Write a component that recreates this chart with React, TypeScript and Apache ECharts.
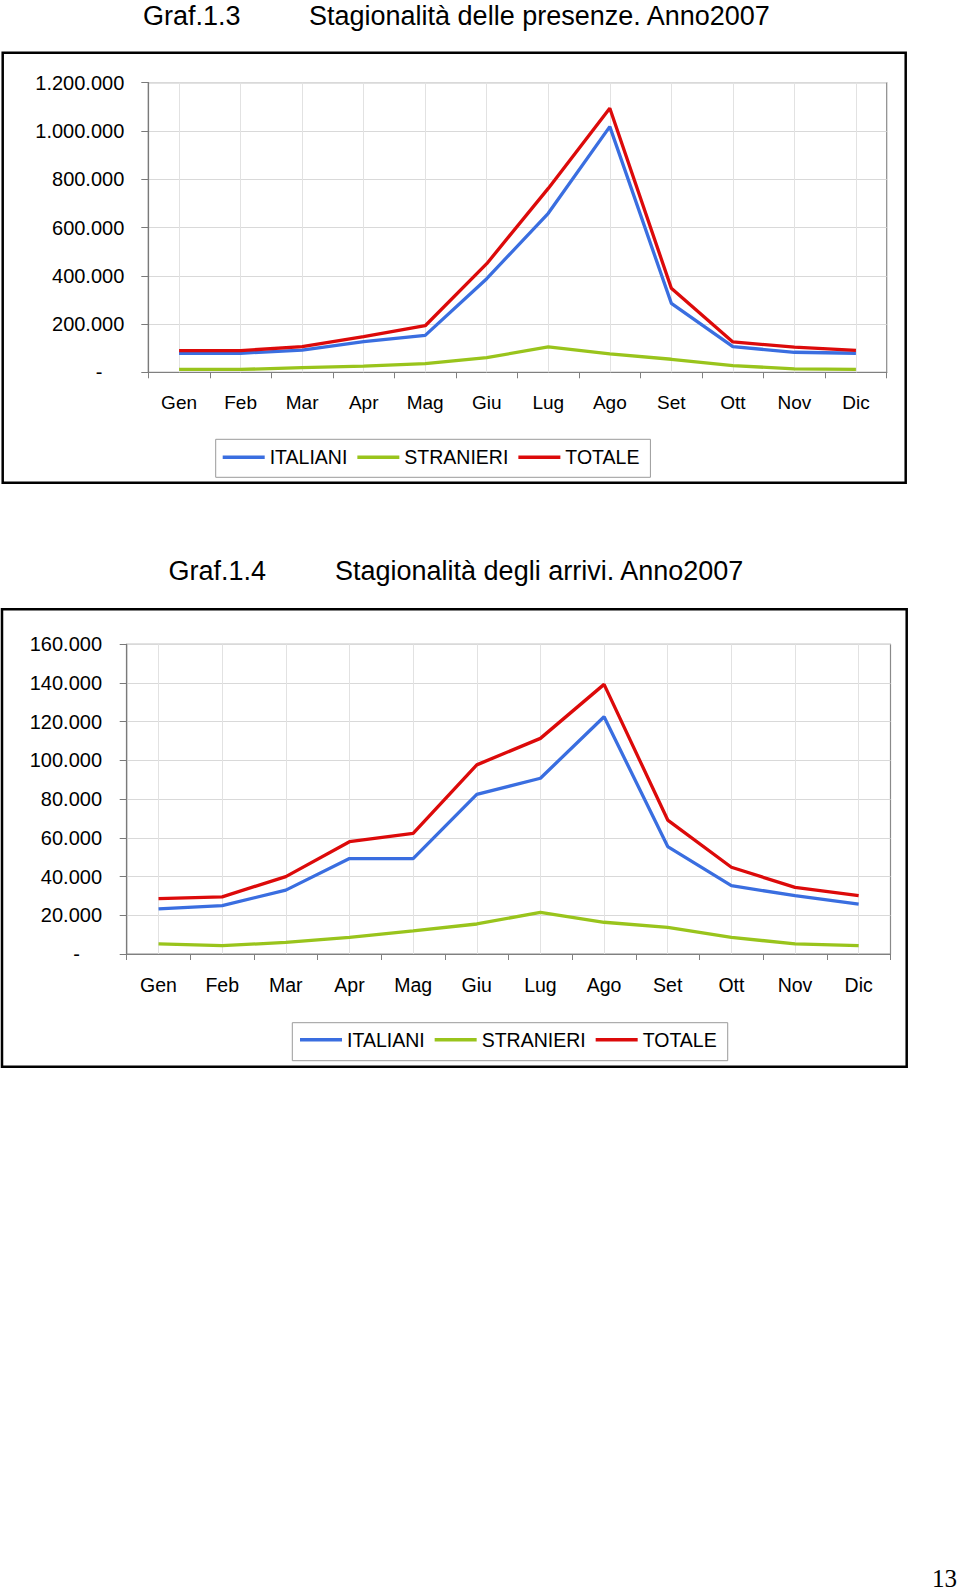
import React, { useEffect, useRef } from "react";
import * as echarts from "echarts";

const months = ["Gen", "Feb", "Mar", "Apr", "Mag", "Giu", "Lug", "Ago", "Set", "Ott", "Nov", "Dic"];
const seriesNames = ["ITALIANI", "STRANIERI", "TOTALE"];

// Graf.1.3 – presenze
const presenzeItaliani = [79000, 79000, 92000, 127000, 153000, 388000, 659000, 1018000, 286000, 106000, 83000, 79000];
const presenzeStranieri = [12000, 12000, 19000, 26000, 36000, 61000, 105000, 76000, 54000, 28000, 14000, 12000];
const presenzeTotale = [90000, 90000, 106000, 148000, 193000, 450000, 762000, 1094000, 348000, 126000, 104000, 91000];
const presenzeAxis = [0, 1200000, 200000]; // min, max, interval

// Graf.1.4 – arrivi
const arriviItaliani = [23300, 25000, 33000, 49300, 49300, 82500, 90800, 122600, 55500, 35300, 30100, 25800];
const arriviStranieri = [5200, 4300, 6000, 8600, 11900, 15500, 21500, 16400, 13800, 8600, 5200, 4300];
const arriviTotale = [28600, 29500, 40000, 58000, 62300, 97700, 111400, 139300, 69200, 44800, 34400, 30100];
const arriviAxis = [0, 160000, 20000];

const titles1 = ["Graf.1.3", "Stagionalità delle presenze. Anno2007"];
const titles2 = ["Graf.1.4", "Stagionalità degli arrivi. Anno2007"];
const pageNumber = "13";

const FONT = "'Liberation Sans', Arial, Helvetica, sans-serif";
const COLORS = ["#3a6ee0", "#99c41c", "#dc0a0a"];

const fmt = (v: number) => String(v).replace(/\B(?=(\d{3})+(?!\d))/g, ".");

export default function App() {
  const ref = useRef<HTMLDivElement>(null);
  useEffect(() => {
    if (!ref.current) return;
    const chart = echarts.init(ref.current, undefined, { renderer: "svg" });

    const grids = [
      { left: 148.3, top: 82.7, width: 738.4, height: 289.6 },
      { left: 126.7, top: 644.3, width: 763.8, height: 309.7 },
    ];

    const xAxes = grids.map((_, i) => ({
      type: "category",
      gridIndex: i,
      data: months,
      boundaryGap: true,
      axisLine: { show: true, lineStyle: { color: "#808080", width: 1.2 } },
      axisTick: { show: true, interval: 0, length: 6, lineStyle: { color: "#808080", width: 1 } },
      axisLabel: {
        interval: 0,
        margin: 21,
        color: "#000",
        fontSize: i === 0 ? 19 : 19.5,
        fontFamily: FONT,
      },
      splitLine: { show: false },
    }));

    const axisDefs = [presenzeAxis, arriviAxis];
    const yAxes = axisDefs.map((a, i) => ({
      type: "value",
      gridIndex: i,
      min: a[0],
      max: a[1],
      interval: a[2],
      axisLine: { show: true, lineStyle: { color: "#7a7a7a", width: 1.2 } },
      axisTick: { show: true, length: 7, lineStyle: { color: "#7a7a7a", width: 1 } },
      axisLabel: {
        margin: i === 0 ? 24 : 24.7,
        color: "#000",
        fontSize: 20,
        fontFamily: FONT,
        formatter: (v: number) => (v === 0 ? "{z|-}" : fmt(v)),
        rich: { z: { padding: [0, 22, 0, 0], fontSize: 20, color: "#000", fontFamily: FONT } },
      },
      splitLine: { show: true, lineStyle: { color: "#d9d9d9", width: 1 } },
    }));

    const dataSets = [
      [presenzeItaliani, presenzeStranieri, presenzeTotale],
      [arriviItaliani, arriviStranieri, arriviTotale],
    ];

    const series: any[] = [];
    dataSets.forEach((set, gi) => {
      set.forEach((vals, si) => {
        const s: any = {
          type: "line",
          name: seriesNames[si],
          xAxisIndex: gi,
          yAxisIndex: gi,
          data: vals,
          symbol: "none",
          showSymbol: false,
          z: 3 + si,
          lineStyle: { color: COLORS[si], width: 3.3 },
          itemStyle: { color: COLORS[si] },
        };
        if (si === 0) {
          s.markLine = {
            z: 1,
            silent: true,
            symbol: ["none", "none"],
            label: { show: false },
            lineStyle: { color: "#e2e2e2", width: 1, type: "solid" },
            emphasis: { disabled: true },
            data: months.map((m) => ({ xAxis: m })),
          };
        }
        series.push(s);
      });
    });

    const legendBase = {
      data: seriesNames.map((n) => ({ name: n, icon: "rect" })),
      orient: "horizontal",
      itemWidth: 42,
      itemHeight: 3.6,
      itemGap: 10,
      borderColor: "#9a9a9a",
      borderWidth: 1,
      backgroundColor: "#fff",
      textStyle: { color: "#000", fontSize: 19.5, fontFamily: FONT },
      selectedMode: false,
    };

    chart.setOption({
      animation: false,
      backgroundColor: "#fff",
      grid: grids.map((g) => ({
        ...g,
        show: true,
        borderColor: "#8a8a8a",
        borderWidth: 1.2,
        backgroundColor: "transparent",
        containLabel: false,
      })),
      xAxis: xAxes,
      yAxis: yAxes,
      legend: [
        { ...legendBase, left: 215.7, top: 439.3, padding: [8, 11, 10, 7] },
        { ...legendBase, left: 292.3, top: 1022.7, padding: [7, 11, 11, 7.7] },
      ],
      series,
      graphic: [
        {
          type: "rect",
          shape: { x: 2.7, y: 52.7, width: 903, height: 430 },
          style: { fill: "none", stroke: "#000", lineWidth: 2.5 },
          silent: true,
        },
        {
          type: "rect",
          shape: { x: 2, y: 609.3, width: 904.7, height: 457.4 },
          style: { fill: "none", stroke: "#000", lineWidth: 2.5 },
          silent: true,
        },
        {
          type: "text",
          x: 143,
          y: 16,
          style: { text: titles1[0], fill: "#000", fontSize: 27, fontFamily: FONT, align: "left", verticalAlign: "middle" },
        },
        {
          type: "text",
          x: 309,
          y: 16,
          style: { text: titles1[1], fill: "#000", fontSize: 27, fontFamily: FONT, align: "left", verticalAlign: "middle" },
        },
        {
          type: "text",
          x: 168.5,
          y: 570.5,
          style: { text: titles2[0], fill: "#000", fontSize: 27, fontFamily: FONT, align: "left", verticalAlign: "middle" },
        },
        {
          type: "text",
          x: 335,
          y: 570.5,
          style: { text: titles2[1], fill: "#000", fontSize: 27, fontFamily: FONT, align: "left", verticalAlign: "middle" },
        },
        {
          type: "text",
          x: 957,
          y: 1578,
          style: {
            text: pageNumber,
            fill: "#000",
            fontSize: 25,
            fontFamily: "'Liberation Serif', 'Times New Roman', serif",
            align: "right",
            verticalAlign: "middle",
          },
        },
      ],
    });

    return () => chart.dispose();
  }, []);

  return (
    <div
      ref={ref}
      style={{ position: "absolute", left: 0, top: 0, width: 960, height: 1590, background: "#fff" }}
    />
  );
}
